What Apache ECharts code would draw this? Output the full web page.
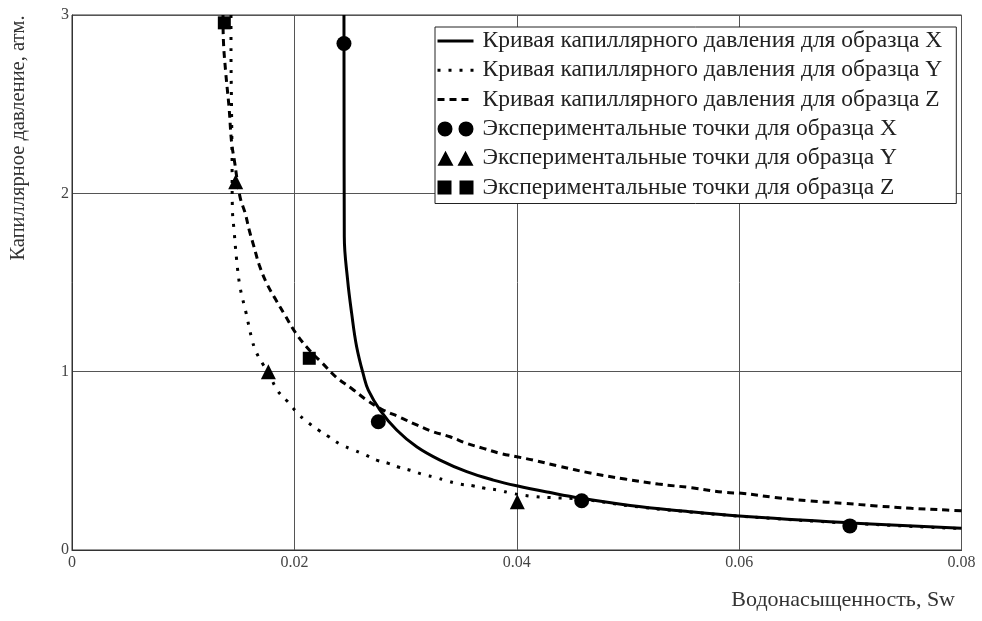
<!DOCTYPE html>
<html>
<head>
<meta charset="utf-8">
<script src="https://cdn.jsdelivr.net/npm/echarts@6/dist/echarts.min.js"></script>
<style>
  html, body { margin: 0; padding: 0; background: #fff; }
  #chart { width: 982px; height: 621px; }
</style>
</head>
<body>
<div id="chart"></div>
<script>
// Axis ranges and tick labels
const xTicks = [0, 0.02, 0.04, 0.06, 0.08];
const yTicks = [0, 1, 2, 3];

// Series names
const curveNames = [
  'Кривая капиллярного давления для образца X',
  'Кривая капиллярного давления для образца Y',
  'Кривая капиллярного давления для образца Z'
];
const pointNames = [
  'Экспериментальные точки для образца X',
  'Экспериментальные точки для образца Y',
  'Экспериментальные точки для образца Z'
];

// Capillary pressure curve, sample X
const curveXsw = [0.02446, 0.02449, 0.02479, 0.02515, 0.0256, 0.02626, 0.02665, 0.0277, 0.0292, 0.031, 0.0331, 0.0355, 0.0379, 0.04, 0.043, 0.0458, 0.0502, 0.0547, 0.06, 0.07, 0.08];
const curveXpc = [3.0, 1.756, 1.513, 1.328, 1.140, 0.971, 0.897, 0.785, 0.673, 0.579, 0.504, 0.439, 0.392, 0.360, 0.322, 0.290, 0.250, 0.220, 0.190, 0.152, 0.122];

// Capillary pressure curve, sample Y
const curveYsw = [0.0143, 0.0143, 0.01434, 0.01439, 0.01442, 0.0146, 0.01481, 0.01511, 0.01565, 0.01616, 0.01655, 0.0172, 0.01763, 0.0185, 0.01946, 0.02036, 0.02125, 0.02216, 0.02311, 0.02416, 0.0253, 0.02635, 0.0274, 0.02845, 0.02943, 0.03055, 0.03154, 0.03264, 0.0337, 0.03483, 0.03604, 0.03714, 0.03833, 0.03955, 0.04148, 0.043, 0.0458, 0.0502, 0.0547, 0.06, 0.07, 0.08];
const curveYpc = [3.0, 2.80, 2.52, 2.24, 1.924, 1.775, 1.626, 1.476, 1.331, 1.187, 1.112, 1.039, 0.999, 0.893, 0.828, 0.762, 0.714, 0.673, 0.635, 0.592, 0.561, 0.534, 0.504, 0.486, 0.464, 0.445, 0.424, 0.408, 0.388, 0.370, 0.360, 0.346, 0.336, 0.318, 0.300, 0.294, 0.285, 0.247, 0.218, 0.190, 0.150, 0.120];

// Capillary pressure curve, sample Z
const curveZsw = [0.01358, 0.01361, 0.01382, 0.01412, 0.01436, 0.0146, 0.01511, 0.01558, 0.01594, 0.01637, 0.01684, 0.01751, 0.01826, 0.01915, 0.02014, 0.02134, 0.02253, 0.0238, 0.02515, 0.0265, 0.02785, 0.0295, 0.031, 0.03249, 0.034, 0.0355, 0.03699, 0.03849, 0.04, 0.04148, 0.04373, 0.04673, 0.04973, 0.05272, 0.05573, 0.05872, 0.06022, 0.06322, 0.06637, 0.06936, 0.07237, 0.07551, 0.07866, 0.08];
const curveZpc = [3.0, 2.868, 2.681, 2.485, 2.281, 2.186, 1.980, 1.888, 1.794, 1.700, 1.598, 1.495, 1.411, 1.317, 1.215, 1.121, 1.047, 0.967, 0.906, 0.841, 0.789, 0.744, 0.701, 0.663, 0.635, 0.598, 0.570, 0.542, 0.523, 0.504, 0.471, 0.430, 0.398, 0.370, 0.349, 0.323, 0.318, 0.295, 0.275, 0.262, 0.247, 0.234, 0.224, 0.220];

// Experimental points
const pointsXsw = [0.02446, 0.02755, 0.04584, 0.06996];
const pointsXpc = [2.84, 0.719, 0.276, 0.135];
const pointsYsw = [0.01472, 0.01766, 0.04005];
const pointsYpc = [2.065, 1.0, 0.271];
const pointsZsw = [0.0137, 0.02134];
const pointsZpc = [2.956, 1.075];

const zip = (xs, ys) => xs.map((x, i) => [x, ys[i]]);

const FONT = '"Liberation Serif", "DejaVu Serif", serif';

const chart = echarts.init(document.getElementById('chart'), null, { renderer: 'canvas' });

const curveBase = {
  type: 'line',
  showSymbol: false,
  symbol: 'none',
  smooth: 0.4,
  clip: true,
  silent: true,
  z: 2
};

// line entries in the legend show only the stroke pattern
const hiddenMarker = { color: 'rgba(0,0,0,0)', opacity: 0 };

chart.setOption({
  animation: false,
  backgroundColor: '#fff',
  grid: {
    left: 72, right: 20.5, top: 15, bottom: 71,
    show: true, borderColor: '#333', borderWidth: 1
  },
  xAxis: {
    type: 'value',
    min: xTicks[0], max: xTicks[xTicks.length - 1], interval: 0.02,
    axisLine: { show: true, onZero: false, lineStyle: { color: '#333', width: 1 } },
    axisTick: { show: false },
    splitLine: { show: true, lineStyle: { color: '#555', width: 1 } },
    axisLabel: {
      color: '#444', fontFamily: FONT, fontSize: 16, margin: 5,
      formatter: v => String(+v.toFixed(2))
    }
  },
  yAxis: {
    type: 'value',
    min: yTicks[0], max: yTicks[yTicks.length - 1], interval: 1,
    axisLine: { show: true, onZero: false, lineStyle: { color: '#333', width: 1 } },
    axisTick: { show: false },
    splitLine: { show: true, lineStyle: { color: '#555', width: 1 } },
    axisLabel: { color: '#444', fontFamily: FONT, fontSize: 16, margin: 3 }
  },
  legend: {
    orient: 'vertical',
    left: 435, top: 27,
    padding: [2, 14, 4, 1],
    itemWidth: 36, itemHeight: 15, itemGap: 5.3,
    backgroundColor: '#fff',
    borderColor: '#222', borderWidth: 1,
    selectedMode: false,
    lineStyle: { width: 3 },
    textStyle: { fontFamily: FONT, fontSize: 23.5, lineHeight: 23, color: '#222', padding: [0, 0, 0, 4] },
    data: [
      { name: curveNames[0], itemStyle: hiddenMarker, lineStyle: { width: 3 } },
      { name: curveNames[1], itemStyle: hiddenMarker, lineStyle: { width: 3 } },
      { name: curveNames[2], itemStyle: hiddenMarker, lineStyle: { width: 3 } },
      { name: pointNames[0], icon: 'path://M7.5,0A7.5,7.5 0 1,1 7.5,15A7.5,7.5 0 1,1 7.5,0ZM28.5,0A7.5,7.5 0 1,1 28.5,15A7.5,7.5 0 1,1 28.5,0Z' },
      { name: pointNames[1], icon: 'path://M8,0L16,15L0,15ZM28,0L36,15L20,15Z' },
      { name: pointNames[2], icon: 'path://M0,1H14V15H0ZM22,1H36V15H22Z' }
    ]
  },
  graphic: [
    {
      type: 'text',
      x: 19, y: 138,
      rotation: Math.PI / 2,
      style: {
        text: 'Капиллярное давление, атм.',
        font: '20.5px ' + FONT,
        fill: '#333',
        align: 'center', verticalAlign: 'middle'
      }
    },
    {
      type: 'text',
      x: 955, y: 600,
      style: {
        text: 'Водонасыщенность, Sw',
        font: '22px ' + FONT,
        fill: '#333',
        align: 'right', verticalAlign: 'middle'
      }
    }
  ],
  series: [
    Object.assign({}, curveBase, {
      name: curveNames[0],
      data: zip(curveXsw, curveXpc),
      lineStyle: { color: '#000', width: 3, type: 'solid' },
      itemStyle: { color: '#000' }
    }),
    Object.assign({}, curveBase, {
      name: curveNames[1],
      data: zip(curveYsw, curveYpc),
      lineStyle: { color: '#000', width: 3, type: [3, 8], cap: 'butt' },
      itemStyle: { color: '#000' }
    }),
    Object.assign({}, curveBase, {
      name: curveNames[2],
      data: zip(curveZsw, curveZpc),
      lineStyle: { color: '#000', width: 3, type: [7, 5], cap: 'butt' },
      itemStyle: { color: '#000' }
    }),
    {
      name: pointNames[0], type: 'scatter', z: 3,
      symbol: 'circle', symbolSize: 15,
      itemStyle: { color: '#000', opacity: 1 },
      data: zip(pointsXsw, pointsXpc)
    },
    {
      name: pointNames[1], type: 'scatter', z: 3,
      symbol: 'triangle', symbolSize: 15,
      itemStyle: { color: '#000', opacity: 1 },
      data: zip(pointsYsw, pointsYpc)
    },
    {
      name: pointNames[2], type: 'scatter', z: 3,
      symbol: 'rect', symbolSize: 13,
      itemStyle: { color: '#000', opacity: 1 },
      data: zip(pointsZsw, pointsZpc)
    }
  ]
});
</script>
</body>
</html>
